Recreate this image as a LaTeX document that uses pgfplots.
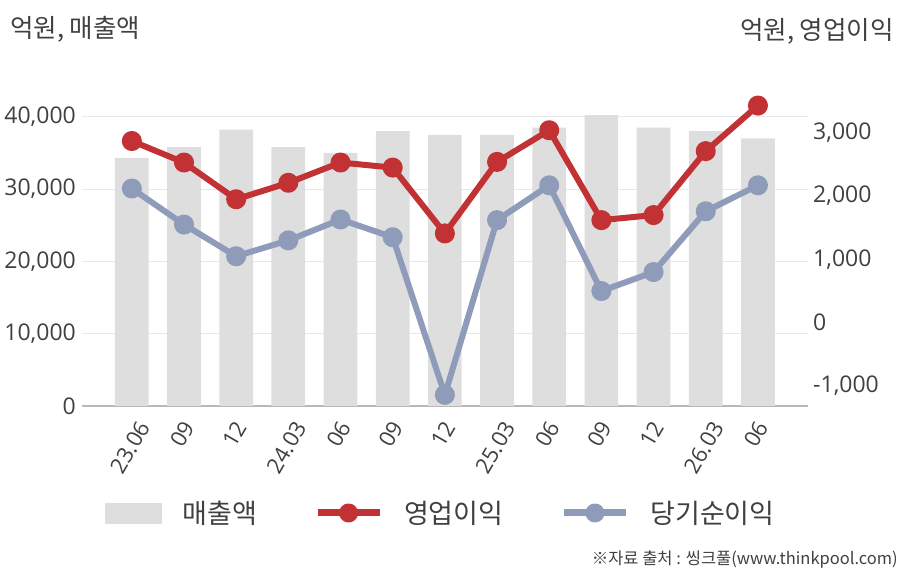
\documentclass[border=0pt]{standalone}
\usepackage{fontspec}
\setmainfont{Open Sans}
\newfontfamily\kr{Noto Sans CJK KR}
\usepackage{graphicx}
\usepackage{pgfplots}
\pgfplotsset{compat=1.18}
\definecolor{barc}{HTML}{DEDEDE}
\definecolor{redc}{HTML}{C23234}
\definecolor{bluec}{HTML}{8E9CBA}
\definecolor{txt}{HTML}{404040}
\definecolor{gridc}{HTML}{E8E8E8}
\definecolor{axc}{HTML}{B8B8B8}
\newcommand{\R}[1]{\rotatebox{60}{#1}}
\begin{document}
\begin{tikzpicture}
\path[use as bounding box] (0,0) rectangle (908pt,580pt);
\begin{axis}[
 at={(82pt,174pt)}, anchor=south west, scale only axis, width=726pt, height=311pt,
 xmin=-0.955, xmax=12.96, ymin=0, ymax=43000,
 axis line style={draw=none}, major tick length=0pt,
 ytick={0,10000,20000,30000,40000},
 ymajorgrids, grid style={draw=gridc, line width=1pt},
 extra y ticks={0}, extra y tick labels={}, extra y tick style={grid style={draw=axc, line width=1.3pt}},
 scaled y ticks=false,
 yticklabel style={/pgf/number format/1000 sep={,}, /pgf/number format/assume math mode=true, font=\fontsize{23}{28}\selectfont, text=txt, inner sep=0pt, xshift=-6pt},
 xtick={0,...,12},
 xticklabels={\R{23.06},\R{09},\R{12},\R{24.03},\R{06},\R{09},\R{12},\R{25.03},\R{06},\R{09},\R{12},\R{26.03},\R{06}},
 xticklabel style={anchor=north, inner sep=0pt, yshift=-13pt, xshift=-2pt, font=\fontsize{22}{26}\selectfont, text=txt},
]
\addplot[ybar, bar width=0.646, fill=barc, draw=none] coordinates {
(0,34300) (1,35800) (2,38200) (3,35800) (4,35000) (5,38000) (6,37500)
(7,37500) (8,38500) (9,40200) (10,38500) (11,38000) (12,37000)};
\end{axis}
\begin{axis}[
 at={(82pt,174pt)}, anchor=south west, scale only axis, width=726pt, height=311pt,
 xmin=-0.955, xmax=12.96, ymin=-1316, ymax=3597,
 axis x line=none, axis y line*=right, y axis line style={draw=none}, major tick length=0pt,
 ytick={-1000,0,1000,2000,3000},
 scaled y ticks=false,
 yticklabel style={/pgf/number format/1000 sep={,}, /pgf/number format/assume math mode=true, font=\fontsize{23}{28}\selectfont, text=txt, inner sep=0pt, anchor=west, xshift=5pt},
 legend style={at={(0.493,-0.344)}, anchor=center, draw=none, fill=none, legend columns=3,
   font=\kr\fontsize{27}{32}\selectfont, text=txt, inner sep=0pt, nodes={inner sep=0pt},
   /tikz/every even column/.append style={column sep=57pt},
   /tikz/every odd column/.append style={column sep=21pt}},
]
\addlegendimage{legend image code/.code={\fill[barc] (0pt,-10pt) rectangle (56pt,10pt);}}
\addlegendentry{매출액}
\addplot[draw=redc, line width=6pt, line join=round, mark=*, mark size=7pt, mark options={fill=redc, draw=none},
 legend image code/.code={\draw[line width=7pt, draw=redc] (0pt,0pt) -- (62pt,0pt); \fill[redc] (31pt,0pt) circle (6.5pt);}]
 coordinates {(0,2870) (1,2530) (2,1950) (3,2210) (4,2530) (5,2450) (6,1410)
 (7,2540) (8,3040) (9,1620) (10,1700) (11,2710) (12,3430)};
\addlegendentry{영업이익}
\addplot[draw=bluec, line width=6pt, line join=round, mark=*, mark size=7pt, mark options={fill=bluec, draw=none},
 legend image code/.code={\draw[line width=7pt, draw=bluec] (0pt,0pt) -- (62pt,0pt); \fill[bluec] (31pt,0pt) circle (6.5pt);}]
 coordinates {(0,2120) (1,1550) (2,1050) (3,1300) (4,1630) (5,1350) (6,-1140)
 (7,1620) (8,2170) (9,500) (10,800) (11,1760) (12,2170)};
\addlegendentry{당기순이익}
\end{axis}
\node[anchor=west, text=txt, font=\kr\fontsize{25.5}{30}\selectfont, inner sep=0pt] at (10pt,551pt) {억원, 매출액};
\node[anchor=east, text=txt, font=\kr\fontsize{25.5}{30}\selectfont, inner sep=0pt] at (894pt,549pt) {억원, 영업이익};
\node[anchor=east, text=txt, font=\kr\fontsize{16.5}{20}\selectfont, inner sep=0pt] at (898pt,20pt) {※자료 출처 : 씽크풀(www.thinkpool.com)};
\end{tikzpicture}
\end{document}
